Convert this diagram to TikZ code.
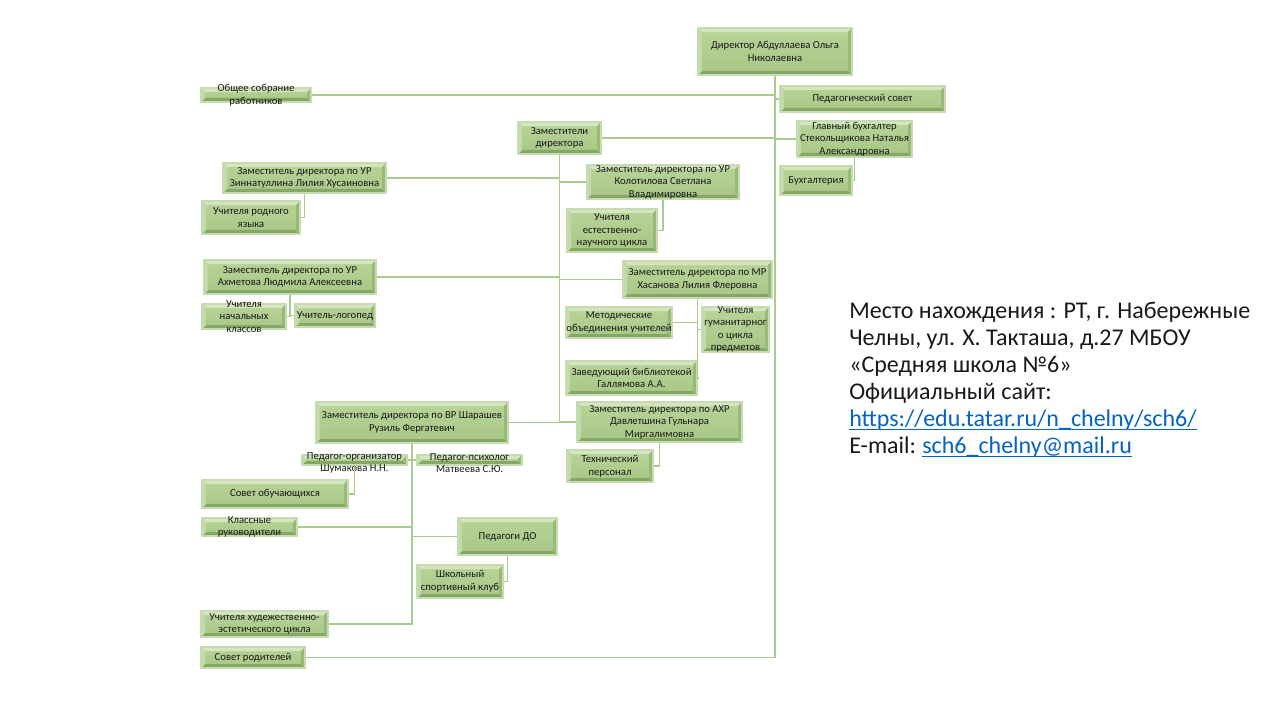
\documentclass[tikz,border=0pt]{standalone}
\usepackage{fontspec}
\setmainfont{Carlito}
\definecolor{bxborder}{HTML}{C6DCB0}
\definecolor{bvtop}{HTML}{D3E6C0}
\definecolor{bvleft}{HTML}{C2D9AA}
\definecolor{bvbot}{HTML}{86A867}
\definecolor{bvright}{HTML}{98B978}
\definecolor{fillA}{HTML}{B8D498}
\definecolor{fillB}{HTML}{A7C785}
\definecolor{conncol}{HTML}{A9CB8E}
\definecolor{linkcol}{HTML}{0563C1}
\def\bv{3pt}
\tikzset{
  bx/.style={draw=bxborder, line width=0.9pt, top color=fillA, bottom color=fillB, inner sep=0pt,
    path picture={
      \path (path picture bounding box.north west) coordinate (pnw)
            (path picture bounding box.south east) coordinate (pse);
      \fill[bvtop] (pnw) -- (pse |- pnw) -- ([shift={(-\bv,-\bv)}]pse |- pnw) -- ([shift={(\bv,-\bv)}]pnw) -- cycle;
      \fill[bvbot] (pnw |- pse) -- (pse) -- ([shift={(-\bv,\bv)}]pse) -- ([shift={(\bv,\bv)}]pnw |- pse) -- cycle;
      \fill[bvleft] (pnw) -- (pnw |- pse) -- ([shift={(\bv,\bv)}]pnw |- pse) -- ([shift={(\bv,-\bv)}]pnw) -- cycle;
      \fill[bvright] (pse |- pnw) -- (pse) -- ([shift={(-\bv,\bv)}]pse) -- ([shift={(-\bv,-\bv)}]pse |- pnw) -- cycle;
    }},
  lbl/.style={align=center, inner sep=0pt, text=black!90, font=\fontsize{8}{9.4}\selectfont},
  conn/.style={draw=conncol, line width=1.1pt},
  info/.style={inner sep=0pt, anchor=base west, text=black!90, font=\fontsize{18}{20}\selectfont},
  link/.style={info, text=linkcol}
}
% [text offset] name x1 y1 x2 y2 text
\newcommand\bx[7][0]{%
  \node[bx, minimum width={(#5-#3)*0.75pt}, minimum height={(#6-#4)*0.75pt}] (#2) at ({(#3+#5)/2},{(#4+#6)/2}) {};
  \node[lbl] (#2-t) at ([yshift={-#1*0.75pt}]#2.center) {#7};
}
\begin{document}
\begin{tikzpicture}[x=0.75pt,y=-0.75pt]
\fill[white] (0,0) rectangle (1280,720);
\useasboundingbox (0,0) rectangle (1280,720);

\bx{dir}{698}{28}{852}{75}{Директор Абдуллаева Ольга\\Николаевна}
\bx{obsh}{201}{88}{311}{102}{Общее собрание\\работников}
\bx{pedsov}{780}{86}{945}{112}{Педагогический совет}
\bx{glav}{797}{121}{912}{157}{Главный бухгалтер\\Стекольщикова Наталья\\Александровна}
\bx{buh}{780}{166}{852}{195}{Бухгалтерия}
\bx{zam}{518}{122}{601}{154}{Заместители\\директора}
\bx{zin}{223}{163}{386}{193}{Заместитель директора по УР\\Зиннатуллина Лилия Хусаиновна}
\bx{rod}{202}{201}{300}{234}{Учителя родного\\языка}
\bx{kol}{587}{165}{739}{199}{Заместитель директора по УР\\Колотилова Светлана\\Владимировна}
\bx{est}{567}{209}{657}{252}{Учителя\\естественно-\\научного цикла}
\bx{axm}{204}{260}{376}{294}{Заместитель директора по УР\\Ахметова Людмила Алексеевна}
\bx{nach}{202}{304}{286}{329}{Учителя\\начальных\\классов}
\bx{log}{295}{304}{375}{327}{Учитель-логопед}
\bx{has}{623}{261}{772}{298}{Заместитель директора по МР\\Хасанова Лилия Флеровна}
\bx{met}{566}{307}{672}{338}{Методические\\объединения учителей}
\bx{gum}{702}{307}{769}{352}{Учителя\\гуманитарног\\о цикла\\предметов}
\bx{bib}{566}{361}{697}{395}{Заведующий библиотекой\\Галлямова А.А.}
\bx{vr}{316}{402}{508}{443}{Заместитель директора по ВР Шарашев\\Рузиль Фергатевич}
\bx{axr}{577}{402}{742}{442}{Заместитель директора по АХР\\Давлетшина Гульнара\\Миргалимовна}
\bx{teh}{567}{450}{653}{482}{Технический\\персонал}
\bx[3]{shum}{302}{455}{407}{465}{Педагог-организатор\\Шумакова Н.Н.}
\bx[3]{matv}{417}{455}{522}{465}{Педагог-психолог\\Матвеева С.Ю.}
\bx{sovob}{202}{480}{348}{508}{Совет обучающихся}
\bx{kl}{202}{518}{297}{536}{Классные\\руководители}
\bx{pdo}{458}{518}{557}{555}{Педагоги ДО}
\bx{ssk}{417}{565}{503}{598}{Школьный\\спортивный клуб}
\bx{hud}{201}{611}{328}{637}{Учителя худежественно-\\эстетического цикла}
\bx{sovrod}{201}{647}{305}{668}{Совет родителей}

% connectors
\draw[conn] (dir.south) |- (sovrod.east);
\draw[conn] (obsh.east) -- (obsh.east -| dir.south);
\draw[conn] (pedsov.west) -- (pedsov.west -| dir.south);
\draw[conn] (glav.west) -- (glav.west -| dir.south);
\draw[conn] (zam.east) -- (zam.east -| dir.south);
\draw[conn] (glav.south) |- (buh.east);
\draw[conn] (zam.south) |- (vr.east);
\draw[conn] (axr.west) -- (axr.west -| zam.south);
\draw[conn] (zin.east) -- (zin.east -| zam.south);
\draw[conn] (kol.west) -- (kol.west -| zam.south);
\draw[conn] (kol.south) |- (est.east);
\draw[conn] (zin.south) |- (rod.east);
\draw[conn] (axm.east) -- (axm.east -| zam.south);
\draw[conn] (axm.south) |- (nach.east);
\draw[conn] (axm.south) |- (log.west);
\draw[conn] (has.west) -- (has.west -| zam.south);
\draw[conn] (has.south) |- (met.east);
\draw[conn] (has.south) |- (gum.west);
\draw[conn] (has.south) |- (bib.east);
\draw[conn] (axr.south) |- (teh.east);
\draw[conn] (vr.south) |- (hud.east);
\draw[conn] (vr.south) |- (shum.east);
\draw[conn] (vr.south) |- (matv.west);
\draw[conn] (vr.south) |- (kl.east);
\draw[conn] (vr.south) |- (pdo.west);
\draw[conn] (shum.south) |- (sovob.east);
\draw[conn] (pdo.south) |- (ssk.east);

% info text
\node[info] (i1) at (849,318) {Место нахождения : РТ, г. Набережные};
\node[info] (i2) at (849,345) {Челны, ул. Х. Такташа, д.27 МБОУ};
\node[info] (i3) at (849,372) {«Средняя школа №6»};
\node[info] (i4) at (849,399) {Официальный сайт:};
\node[link] (i5) at (849,426) {https://edu.tatar.ru/n\_chelny/sch6/};
\node[info] (i6) at (849,453) {E-mail:};
\node[link] (i7) at (922,453) {sch6\_chelny@mail.ru};
\draw[linkcol, line width=1pt] ([yshift=-2.4pt]i5.base west) -- ([yshift=-2.4pt]i5.base east);
\draw[linkcol, line width=1pt] ([yshift=-2.4pt]i7.base west) -- ([yshift=-2.4pt]i7.base east);
\end{tikzpicture}
\end{document}
